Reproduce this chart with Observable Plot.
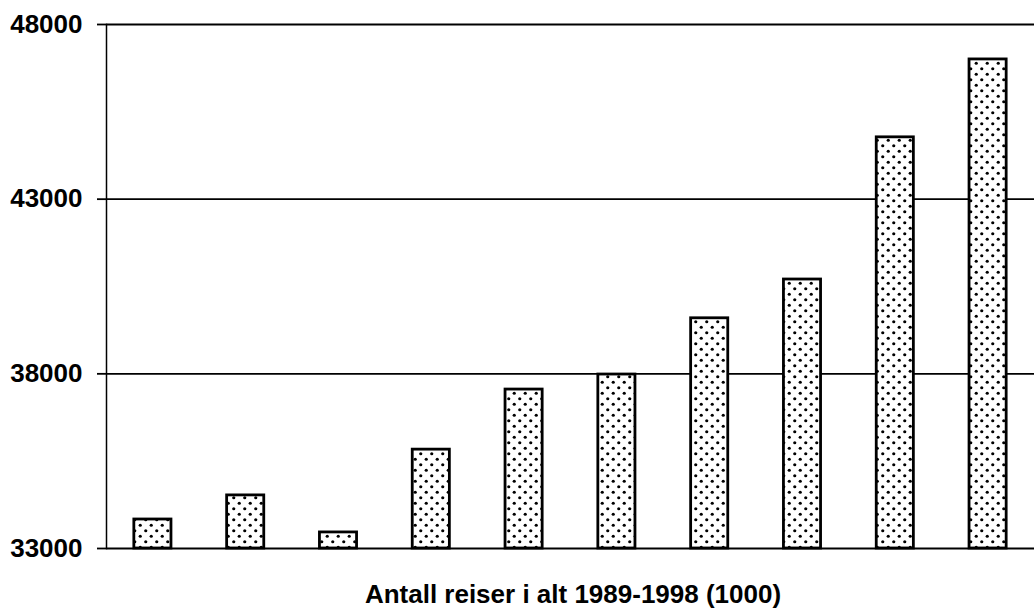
<!DOCTYPE html>
<html>
<head>
<meta charset="utf-8">
<script src="https://cdn.jsdelivr.net/npm/d3@7"></script>
<script src="https://cdn.jsdelivr.net/npm/@observablehq/plot@0.6"></script>
<style>
  html, body { margin: 0; padding: 0; background: #fff; }
  #wrap { position: relative; width: 1034px; height: 609px; overflow: hidden; }
  #title { position: absolute; left: 573px; top: 581px; transform: translateX(-50%); white-space: nowrap;
           line-height: 26px; font-family: "Liberation Sans", Arial, sans-serif; font-weight: bold; font-size: 26px; color: #000; }
</style>
</head>
<body>
<div id="wrap"><div id="title">Antall reiser i alt 1989-1998 (1000)</div></div>
<script>
const years = [1989, 1990, 1991, 1992, 1993, 1994, 1995, 1996, 1997, 1998];
const trips = [33830, 34520, 33460, 35830, 37550, 37980, 39590, 40700, 44770, 47000];
const yTicks = [33000, 38000, 43000, 48000];

const data = years.map((y, i) => ({year: y, value: trips[i]}));

const chart = Plot.plot({
  width: 1034,
  height: 609,
  marginLeft: 106,
  marginRight: 0,
  marginTop: 24,
  marginBottom: 61,
  style: {fontFamily: "'Liberation Sans', Arial, sans-serif", background: "white", color: "black"},
  x: {domain: years, paddingInner: 0.6, paddingOuter: 0.3, round: false, axis: null},
  y: {domain: [33000, 48000], axis: null},
  marks: [
    Plot.gridY(yTicks, {stroke: "black", strokeOpacity: 1, strokeWidth: 1.8}),
    Plot.axisY(yTicks, {label: null, tickSize: 9, tickPadding: 15, tickFormat: d => String(d), fontSize: 26, fontWeight: "bold", stroke: "black", strokeWidth: 1.8}),
    Plot.frame({anchor: "left", stroke: "black", strokeWidth: 1.5}),
    Plot.barY(data, {x: "year", y1: 33000, y2: "value", fill: "url(#dots)", stroke: "black", strokeWidth: 2.8})
  ]
});

// dotted fill pattern
const svg = d3.select(chart);
const defs = svg.insert("defs", ":first-child");
const pat = defs.append("pattern")
  .attr("id", "dots").attr("patternUnits", "userSpaceOnUse")
  .attr("width", 11).attr("height", 11);
pat.append("rect").attr("width", 11).attr("height", 11).attr("fill", "white");
pat.append("circle").attr("cx", 2.75).attr("cy", 2.75).attr("r", 1.6).attr("fill", "black");
pat.append("circle").attr("cx", 8.25).attr("cy", 8.25).attr("r", 1.6).attr("fill", "black");

document.getElementById("wrap").prepend(chart);
</script>
</body>
</html>
